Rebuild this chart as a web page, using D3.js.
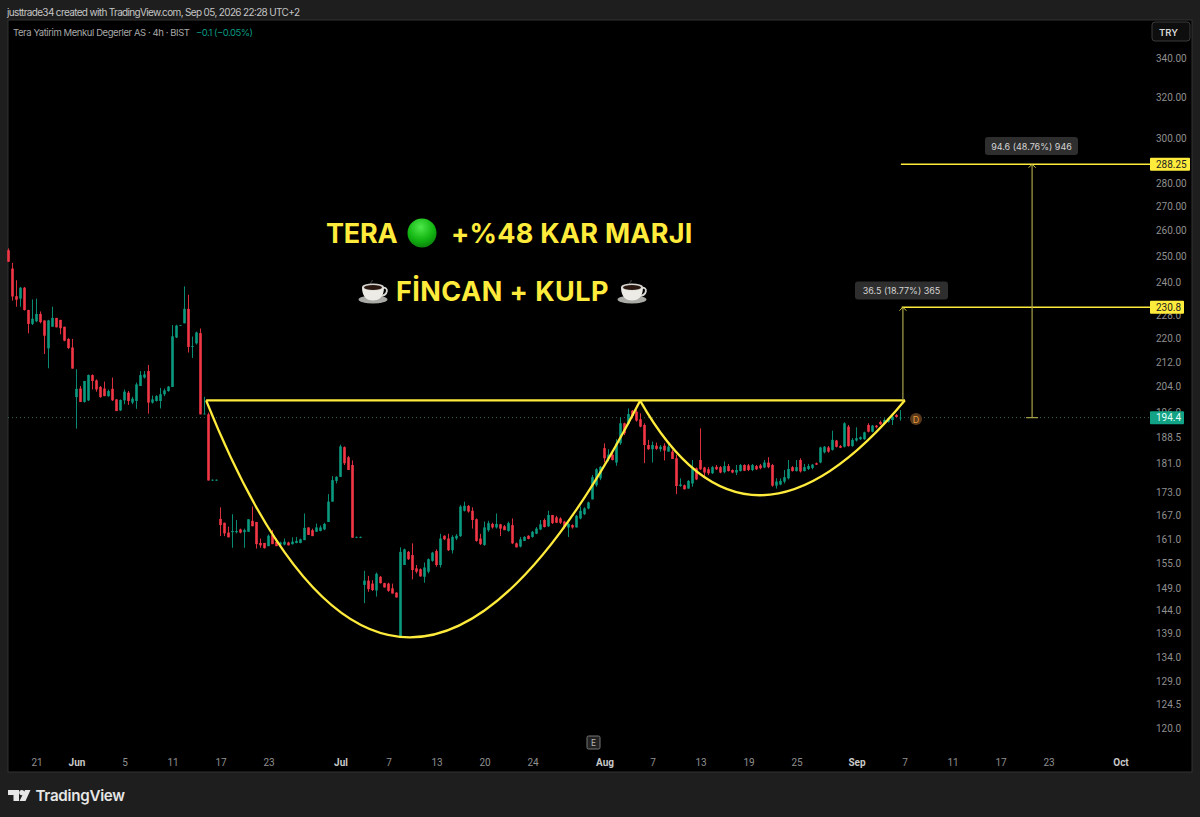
<!DOCTYPE html>
<html>
<head>
<meta charset="utf-8">
<title>TERA</title>
<script src="https://cdn.jsdelivr.net/npm/d3@7"></script>
<style>
  html, body { margin: 0; padding: 0; background: #1e1e1e; }
  svg { display: block; }
  text { font-family: Inter, Roboto, sans-serif; }
  .axis text { font-family: Roboto, sans-serif; font-size: 10px; fill: #8f8f8f; }
  .axis path, .axis line { display: none; }
</style>
</head>
<body>
<div id="chart"></div>
<script>
// candles, one per 4h bar
const opens = [
  252.2,245.1,234.8,233.9,237.9,229.8,224.9,225.8,228.4,226.1,
  216.5,223.9,227,226.3,223.9,219.7,216.8,200.7,203.4,199.2,
  199.7,207.7,206,203.9,203.4,201,203.3,200,196.6,199.7,
  202.1,199,199.5,204.2,206.9,209,199,199.5,199.5,201.6,
  202.6,203.9,220.2,224.3,225.1,230.2,217,218.2,221.7,195.4,
  195.4,176.3,176.3,166.1,165.1,162.6,162.7,162.7,163.4,162.7,
  162.8,165.6,165.3,160,160,159.2,162,160.3,159.6,159.6,
  160.1,159.7,160,160,160.7,163.9,163.2,162.8,163,163.4,
  165.3,170.6,176.2,177.3,185.7,182.8,180.6,161.3,161.3,149.9,
  150.9,150.2,148.6,151.8,150.3,150.2,149.1,148.1,138.1,154.6,
  157.8,157,153.8,153.6,151.8,153,155.6,158,154.6,161.8,
  161.1,158.2,161.1,161.7,168.2,169.5,168.2,166,161.1,159.5,
  163.2,164.8,163.9,164.7,164.2,163,164.5,159.9,159.1,160.5,
  161.8,161.5,162.3,163.4,165.8,164.2,167.1,166.5,166.2,165.4,
  163.9,164.5,163.9,166.2,167.3,168.8,171.2,175,176.9,185.4,
  182.3,183.5,181.3,186.8,192.7,192.5,196.5,196.2,193.9,192.2,
  186.3,185.1,186.1,185.1,186.1,184.4,184.4,182.5,174.8,175,
  174.1,175.5,179.7,182,179.9,179.4,178.3,180.1,180,178.6,
  180.3,179.2,178.5,178.9,180.6,180.5,179.2,180.3,180.5,179.9,
  181.3,180.6,174.9,175.2,176,176.9,180,178.9,182,178.9,
  179.5,179.8,181.1,181.3,184.2,185.6,184.9,187.6,186,185.8,
  191.7,186,187.6,188,188,192.2,190.2,192,193.1,192.6,
  193.2,193.7,195.2,194.3];
const highs = [
  252.9,247.3,240.7,238.2,238.2,229.9,233.6,233.9,229.3,226.1,
  226.3,231,227,226.3,223.9,220,219.7,209.6,204.2,205.8,
  207.9,207.9,206.3,204.2,205.6,203.1,206.9,200,200,203.1,
  202.6,200.8,205.3,209,209,211,201.2,201.3,203.6,203.4,
  204.2,224.5,224.6,224.5,238.4,235.3,220.5,222.2,223.3,200.8,
  195.9,176.6,176.6,169.1,165.1,164.1,167.3,165.8,163.6,163.6,
  166,169.3,165.3,161.1,160,162.1,163.2,161.1,160.3,161.1,
  160.3,161.4,161.5,161.1,167.5,163.9,163.6,164.9,164.4,165.1,
  172.6,177.5,177.5,186.4,185.9,183.2,181.9,161.6,161.6,153.2,
  152,151,152.8,152,150.4,150.4,150.2,148.2,158.9,158.6,
  158,159.9,154.6,153.8,155.2,156.2,157.8,158.4,162.3,161.9,
  162.3,161.9,162.2,169.7,170.6,169.7,169.1,166.2,162.3,165.4,
  165.6,165.1,167.5,164.8,164.5,165.4,166.2,160.1,161.5,161.7,
  161.9,163,164,165.8,166.2,168.2,167.1,166.9,166.5,165.6,
  165,164.7,167.1,169.3,169.1,170.6,177.8,179.7,180.3,186.8,
  185.1,184.7,188,194.5,192.9,197.2,196.7,196.7,195.7,192.7,
  187.8,187.3,187,186.3,186.8,186.6,184.9,183.5,176.9,175.2,
  176.4,182,179.9,191.2,180.1,180,180.3,180.6,180.3,181.6,
  180.9,179.4,180.6,180.9,180.8,180.9,180.9,180.6,180.9,182,
  182.8,180.9,176.9,176.9,179.2,182,180.3,182,182.5,180.9,
  180.9,180.9,181.3,185.8,186,186,190.5,187.8,186.3,193,
  192.2,188.3,191.5,188.8,190.2,192.7,192.2,192.2,193.5,194.2,
  194.5,195.7,195.5,196.7];
const lows = [
  247.7,233.2,231,231,229.6,221.6,224.5,225.5,225.1,214.6,
  209.9,223.9,223.7,221.3,218.9,216.3,209.8,191.1,199.2,199,
  199.5,203.1,202.4,200.5,201,200.8,199.5,196.4,196.4,198.5,
  198.3,198.5,197.1,204.2,206.6,195.6,198.7,199.3,197.2,201,
  202.4,203.9,220,224.3,225.1,215.1,213.3,217.8,195.4,195.4,
  176.3,176.2,176.2,161.7,161.7,161.4,158.8,162.4,162.4,158.8,
  162.8,164.2,158.6,158.8,158.6,159.2,159.7,159.2,159.4,159.4,
  159.4,159.6,159.9,159.9,160.7,162,161.7,162.8,162.9,163.2,
  165.3,170.6,175.5,177.3,180.6,179.2,161.3,161.2,161.2,145.7,
  148.3,148.5,147.2,150.2,149.3,148.3,147.9,147,138.1,154.6,
  155.8,151.2,152.6,151.8,150.4,152.6,155.4,154.2,154,160.7,
  158,157.4,160.7,161.5,168,167.7,163.6,160.3,159.5,159.3,
  162.8,163.6,163.6,161.7,163.2,162.8,159.7,158.9,158.9,160.5,
  160.9,161.3,162.2,163.2,163.9,164,164.8,165,164.8,163.6,
  161.5,163.6,163.9,166,167.1,168.6,171.2,174.6,176.4,181.3,
  181.6,181.9,180.4,186.3,189.2,192.2,194.2,193.2,191.5,181.1,
  184.9,181.3,184.9,184.4,181.9,184.4,182.3,172.6,174.6,173.9,
  174.1,174.6,176.4,179.2,177.5,177.8,178.1,179.2,178.3,178.3,
  178.8,178.3,177.8,178.8,178.9,178.9,178.9,179.2,179.4,179.7,
  179.7,174.6,174.1,175,175.5,176.6,178.8,178.8,178.5,178.8,
  179.2,179.4,180.6,181.1,183.9,184.1,184.7,185.6,185.4,185.6,
  185.8,185.8,187.3,187.8,187.8,190,190,191.2,192.2,192.4,
  192.9,192.2,194.5,193.5];
const closes = [
  247.7,234.7,233.5,237.9,229.8,224.9,226.7,228.4,225.5,220.8,
  226.1,227,223.7,223.4,219.1,216.6,209.8,203.3,199.2,205.8,
  207.7,205.8,203.1,200.7,201,202.6,199.7,196.4,199.8,202.4,
  199.5,200.2,204.7,207.7,207.9,199,200,201,201.6,202.8,
  204,220.6,224.3,224.5,230.2,217,217.3,221.9,195.4,195.6,
  176.3,176.5,176.5,164.5,162.4,161.4,163,163,162.6,163.2,
  166,164.2,159.7,159.4,158.7,161.8,159.7,159.2,160.1,160.3,
  159.4,160.3,160.5,160.9,163.8,162,161.7,163.9,163.9,164.8,
  170.6,176.4,177.3,185.9,181.1,179.2,161.3,161.5,161.5,150.9,
  148.9,148.7,152.5,150.3,149.3,148.5,147.9,147,157.8,158.4,
  156,153.4,153,151.9,154,156,157.6,154.6,161.1,160.9,
  158.2,161.5,161.8,169.3,169.5,168,165.8,160.5,159.7,163.9,
  165,163.9,164.8,163.6,163.2,165,159.9,158.9,160.9,161.5,
  161,162.8,163.6,164.7,164,167.1,165,165.1,165.1,164,
  164.8,163.9,166.9,168.2,168.8,170.4,177.2,179.4,180.1,182.5,
  183.5,182,186.8,192.7,189.7,195.5,194.9,193.5,191.7,186.3,
  185.1,186.3,185.2,185.8,184.7,185.8,182.3,174.8,175.2,173.9,
  176.2,179.7,176.6,179.4,178.5,178.3,180,179.4,178.5,180.3,
  178.9,178.5,179.2,180.6,179,179.2,180.6,179.4,179.7,181.3,
  180,174.9,176,176.2,177.2,179.5,178.9,180,178.8,180,
  180.3,180.7,180.7,185.6,185.8,184.4,187.8,185.8,185.5,192.7,
  186,187.8,188.3,188.6,190,190.2,192,191.5,192.4,193.7,
  194.2,194.7,194.6,194.4];

// axes
const priceTicks = [340,320,300,280,270,260,250,240,228,220,212,204,196,188.5,181,173,167,161,155,149,144,139,134,129,124.5,120];
const priceLabels = ["340.00","320.00","300.00","280.00","270.00","260.00","250.00","240.0","228.0","220.0","212.0","204.0","196.0","188.5","181.0","173.0","167.0","161.0","155.0","149.0","144.0","139.0","134.0","129.0","124.5","120.0"];
const timeTicks = [7,17,29,41,53,65,83,95,107,119,131,149,161,173,185,197,212,224,236,248,260,278];
const timeLabels = ["21","Jun","5","11","17","23","Jul","7","13","20","24","Aug","7","13","19","25","Sep","7","11","17","23","Oct"];
const monthLabels = ["Jun","Jul","Aug","Sep","Oct"];

// drawings, in bar / price units
const rimBars = [49.4,224.1];
const rimPrice = 199.7;
const cupBars = [49.4,97,157.9];
const cupPrices = [199.7,95.6,199.6];
const handleBars = [157.9,184.75,224.1];
const handlePrices = [199.6,148.7,199.7];
const lastPrice = 194.4;
const target1 = 230.8;
const target2 = 288.25;
const target1Bar = 223.6;
const target2Bar = 255.9;
const target2StartBar = 223.1;
const target1Text = "36.5 (18.77%) 365";
const target2Text = "94.6 (48.76%) 946";

const width = 1200, height = 817;
const yellow = "#ffeb3b", green = "#0b9a80", red = "#f23645";

const x = d3.scaleLinear().domain([0, 278]).range([8.5, 1120.5]);
const y = d3.scaleLog().domain([120, 340]).range([728, 58]);

const svg = d3.select("#chart").append("svg")
  .attr("width", width)
  .attr("height", height);

svg.append("rect").attr("width", width).attr("height", height).attr("fill", "#1e1e1e");
svg.append("rect")
  .attr("x", 8).attr("y", 20).attr("width", 1184).attr("height", 752)
  .attr("fill", "#000").attr("stroke", "#333");

// header
svg.append("text").attr("x", 7).attr("y", 16).attr("font-size", 10).attr("fill", "#c4c4c4")
  .attr("textLength", 293)
  .text("justtrade34 created with TradingView.com, Sep 05, 2026 22:28 UTC+2");
svg.append("text").attr("x", 13).attr("y", 36).attr("font-size", 9.5).attr("fill", "#a8a8a8")
  .attr("textLength", 177)
  .text("Tera Yatirim Menkul Degerler AS · 4h · BIST");
svg.append("text").attr("x", 196).attr("y", 36).attr("font-size", 9.5).attr("fill", green)
  .attr("textLength", 57)
  .text("−0.1 (−0.05%)");

// axes
svg.append("g").attr("class", "axis")
  .attr("transform", "translate(1150,0)")
  .call(d3.axisRight(y).tickValues(priceTicks).tickSize(0).tickPadding(6)
    .tickFormat((d, i) => priceLabels[i]));

svg.append("g").attr("class", "axis")
  .attr("transform", "translate(0,758.5)")
  .call(d3.axisBottom(x).tickValues(timeTicks).tickSize(0).tickPadding(0)
    .tickFormat((d, i) => timeLabels[i]))
  .selectAll("text")
  .filter(function () { return monthLabels.includes(this.textContent); })
  .style("font-weight", 700)
  .style("fill", "#c8c8c8");

// last price line
svg.append("line")
  .attr("x1", 8).attr("x2", 1150)
  .attr("y1", y(lastPrice)).attr("y2", y(lastPrice))
  .attr("stroke", "#35695c").attr("stroke-dasharray", "1 3");

// candles
const candles = opens.map((o, i) => ({ i: i, o: o, h: highs[i], l: lows[i], c: closes[i] }));
const candle = svg.append("g").selectAll("g").data(candles).enter().append("g")
  .attr("fill", d => d.c >= d.o ? green : red)
  .attr("stroke", d => d.c >= d.o ? green : red);

candle.append("line")
  .attr("x1", d => x(d.i)).attr("x2", d => x(d.i))
  .attr("y1", d => y(d.h)).attr("y2", d => y(d.l))
  .attr("stroke-width", 0.9);

candle.append("rect")
  .attr("x", d => x(d.i) - 1.3)
  .attr("width", 2.6)
  .attr("y", d => y(Math.max(d.o, d.c)))
  .attr("height", d => Math.max(0.7, Math.abs(y(d.o) - y(d.c))))
  .attr("stroke", "none");

// cup and handle
function arc(bars, prices) {
  const p = d3.path();
  p.moveTo(x(bars[0]), y(prices[0]));
  p.quadraticCurveTo(x(bars[1]), y(prices[1]), x(bars[2]), y(prices[2]));
  return p.toString();
}
svg.append("path").attr("d", arc(cupBars, cupPrices))
  .attr("fill", "none").attr("stroke", yellow).attr("stroke-width", 2.3);
svg.append("path").attr("d", arc(handleBars, handlePrices))
  .attr("fill", "none").attr("stroke", yellow).attr("stroke-width", 2.3);
svg.append("line")
  .attr("x1", x(rimBars[0])).attr("x2", x(rimBars[1]))
  .attr("y1", y(rimPrice)).attr("y2", y(rimPrice))
  .attr("stroke", yellow).attr("stroke-width", 2.3);

// targets
function hline(bar, price) {
  svg.append("line")
    .attr("x1", x(bar)).attr("x2", 1150)
    .attr("y1", y(price)).attr("y2", y(price))
    .attr("stroke", yellow).attr("stroke-width", 1.4);
}
function arrow(bar, from, to) {
  const px = x(bar), py = y(to);
  svg.append("line")
    .attr("x1", px).attr("x2", px).attr("y1", y(from)).attr("y2", py)
    .attr("stroke", "#a9a24a").attr("stroke-width", 1.2);
  svg.append("path")
    .attr("d", `M${px - 3.5},${py + 3.5}L${px},${py}L${px + 3.5},${py + 3.5}`)
    .attr("fill", "none").attr("stroke", "#d8cf48").attr("stroke-width", 1);
}
hline(target1Bar - 0.3, target1);
hline(target2StartBar, target2);
arrow(target1Bar, rimPrice, target1);
arrow(target2Bar, lastPrice, target2);
svg.append("line")
  .attr("x1", x(target2Bar) - 6).attr("x2", x(target2Bar) + 6)
  .attr("y1", y(lastPrice)).attr("y2", y(lastPrice))
  .attr("stroke", "#a9a24a").attr("stroke-width", 1.2);

function bubble(cx, cy, w, label) {
  svg.append("rect")
    .attr("x", cx - w / 2).attr("y", cy - 9).attr("width", w).attr("height", 18)
    .attr("rx", 3).attr("fill", "#2e2e2e");
  svg.append("text").attr("x", cx).attr("y", cy + 3.5)
    .attr("text-anchor", "middle").attr("font-size", 9).attr("fill", "#d4d4d4")
    .text(label);
}
bubble(901.5, 290.5, 93, target1Text);
bubble(1031.5, 146, 93, target2Text);

// price tags
function tag(price, w, fill, color, label) {
  const py = y(price);
  svg.append("rect")
    .attr("x", 1150).attr("y", py - 6.5).attr("width", w).attr("height", 13)
    .attr("rx", 1).attr("fill", fill);
  svg.append("text").attr("x", 1156).attr("y", py + 3.5)
    .style("font-family", "Roboto, sans-serif")
    .attr("font-size", 10).attr("fill", color)
    .text(label);
}
tag(target2, 40, yellow, "#222", "288.25");
tag(target1, 34, yellow, "#222", "230.8");
tag(lastPrice, 34, "#12a285", "#e8fff8", "194.4");

// title
const ballGrad = svg.append("defs").append("radialGradient")
  .attr("id", "ball").attr("cx", "45%").attr("cy", "30%").attr("r", "75%");
ballGrad.append("stop").attr("offset", "0%").attr("stop-color", "#4ee84a");
ballGrad.append("stop").attr("offset", "60%").attr("stop-color", "#12b512");
ballGrad.append("stop").attr("offset", "100%").attr("stop-color", "#0a7d0a");

function title(tx, ty, label, spacing) {
  svg.append("text").attr("x", tx).attr("y", ty)
    .attr("font-size", 27).attr("font-weight", 700).attr("fill", yellow)
    .attr("letter-spacing", spacing)
    .text(label);
}
title(326, 243, "TERA", -0.2);
title(451, 243, "+%48 KAR MARJI", 0.25);
title(396, 300.5, "FİNCAN + KULP", 0.45);
svg.append("circle").attr("cx", 422).attr("cy", 233).attr("r", 14.5).attr("fill", "url(#ball)");

function coffee(cx, cy) {
  const g = svg.append("g").attr("transform", `translate(${cx},${cy})`);
  g.append("path").attr("d", "M-2,-6C-4,-8 0,-9 -1,-11").attr("fill", "none").attr("stroke", "#666").attr("stroke-width", 0.8);
  g.append("ellipse").attr("cx", 0).attr("cy", 8.5).attr("rx", 14.5).attr("ry", 4).attr("fill", "#a9a9a6");
  g.append("path").attr("d", "M9,-3C16,-5 16,5 6,5").attr("fill", "none").attr("stroke", "#d8d8d4").attr("stroke-width", 1.8);
  g.append("path").attr("d", "M-11,-4C-11,7 -5,9.5 0,9.5C5,9.5 11,7 11,-4Z").attr("fill", "#ecebe6");
  g.append("ellipse").attr("cx", 0).attr("cy", -4).attr("rx", 11).attr("ry", 3.4).attr("fill", "#d5d5d0");
  g.append("ellipse").attr("cx", 0).attr("cy", -3.6).attr("rx", 9).attr("ry", 2.5).attr("fill", "#2a1710");
}
coffee(373, 291);
coffee(632, 291);

// TRY box
svg.append("rect").attr("x", 1152).attr("y", 22).attr("width", 38).attr("height", 19)
  .attr("rx", 3).attr("fill", "#0e0e0e").attr("stroke", "#3a3a3a");
svg.append("text").attr("x", 1159).attr("y", 36)
  .attr("font-size", 9.5).attr("font-weight", 600).attr("fill", "#d6d6d6").text("TRY");

// dividend and earnings markers
svg.append("circle").attr("cx", 916).attr("cy", 419).attr("r", 6).attr("fill", "#5a3a1a");
svg.append("text").attr("x", 916).attr("y", 422.5).attr("text-anchor", "middle")
  .attr("font-size", 9).attr("fill", "#e89a3c").text("D");
svg.append("rect").attr("x", 587).attr("y", 736).attr("width", 13).attr("height", 13)
  .attr("rx", 1.5).attr("fill", "#222").attr("stroke", "#777");
svg.append("text").attr("x", 593.5).attr("y", 746).attr("text-anchor", "middle")
  .attr("font-size", 8.5).attr("fill", "#b5b5b5").text("E");

// logo
svg.append("path")
  .attr("d", "M8,790H19V801H13.5V795H8Z M25,790H30.5L25.5,801H19.5Z")
  .attr("fill", "#e6e6e6");
svg.append("circle").attr("cx", 21.8).attr("cy", 792.6).attr("r", 2.6).attr("fill", "#e6e6e6");
svg.append("text").attr("x", 35.5).attr("y", 801)
  .attr("font-size", 15.2).attr("font-weight", 600).attr("fill", "#e6e6e6")
  .attr("letter-spacing", -0.3)
  .text("TradingView");
</script>
</body>
</html>
